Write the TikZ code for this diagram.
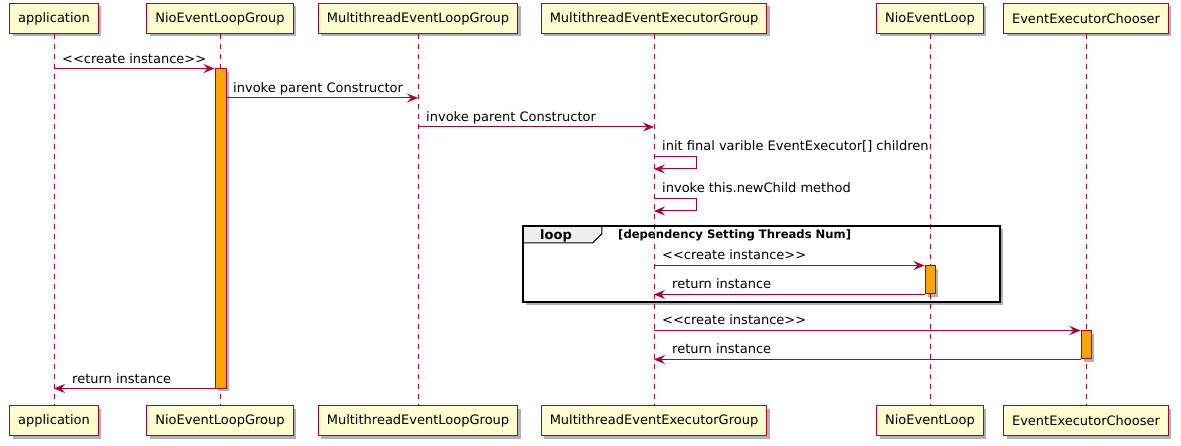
\documentclass[tikz,border=0pt]{standalone}
\usepackage{fontspec}
\newfontfamily\umlfont{DejaVu Sans}
\usetikzlibrary{arrows.meta, shadows}

\definecolor{umlred}{HTML}{A80036}
\definecolor{umlbox}{HTML}{FEFECE}
\definecolor{actfill}{HTML}{FFA500}
\definecolor{tabfill}{HTML}{EEEEEE}

\tikzset{
  part/.style={draw=umlred, fill=umlbox, line width=1pt, minimum height=30pt,
    inner xsep=8.5pt, font=\umlfont\fontsize{13}{15}\selectfont,
    drop shadow={shadow xshift=3pt, shadow yshift=-3pt, fill=black, opacity=.3}},
  lifeline/.style={draw=umlred, line width=1pt, dash pattern=on 5pt off 5pt},
  act/.style={draw=umlred, fill=actfill, line width=1pt, minimum width=10pt, inner sep=0pt,
    drop shadow={shadow xshift=3pt, shadow yshift=-3pt, fill=black, opacity=.3}},
  msg/.style={draw=umlred, line width=1pt, -{Stealth[length=11pt, width=9pt, inset=4pt]}},
  msgtext/.style={anchor=base west, inner sep=0pt, font=\umlfont\fontsize{13}{15}\selectfont},
  loopframe/.style={fill=white, inner sep=0pt,
    drop shadow={shadow xshift=3pt, shadow yshift=-3pt, fill=black, opacity=.3}},
}

\begin{document}
\begin{tikzpicture}[x=1pt, y=-1pt]
  \useasboundingbox (0,0) rectangle (1181,446);

  % loop frame, back part
  \node[loopframe, minimum width=477pt, minimum height=76pt] (loop) at (761.5,264) {};

  % participants, top row
  \node[part] (app) at (54,18.5) {application};
  \node[part] (nlg) at (220,18.5) {NioEventLoopGroup};
  \node[part] (melg) at (418,18.5) {MultithreadEventLoopGroup};
  \node[part] (meeg) at (654,18.5) {MultithreadEventExecutorGroup};
  \node[part] (nel) at (930,18.5) {NioEventLoop};
  \node[part] (eec) at (1086,18.5) {EventExecutorChooser};

  % participants, bottom row
  \node[part] (appB) at (54,420.5) {application};
  \node[part] (nlgB) at (220,420.5) {NioEventLoopGroup};
  \node[part] (melgB) at (418,420.5) {MultithreadEventLoopGroup};
  \node[part] (meegB) at (654,420.5) {MultithreadEventExecutorGroup};
  \node[part] (nelB) at (930,420.5) {NioEventLoop};
  \node[part] (eecB) at (1086,420.5) {EventExecutorChooser};

  \draw[lifeline] (app) -- (appB);
  \draw[lifeline] (nlg) -- (nlgB);
  \draw[lifeline] (melg) -- (melgB);
  \draw[lifeline] (meeg) -- (meegB);
  \draw[lifeline] (nel) -- (nelB);
  \draw[lifeline] (eec) -- (eecB);

  % loop frame, border and tab
  \draw[fill=tabfill, line width=1pt] (loop.north west) -- ++(79,0) -- ++(0,8) -- ++(-9,9) -- ++(-70,0) -- cycle;
  \draw[line width=1.5pt] (loop.north west) rectangle (loop.south east);
  \node[msgtext, font=\umlfont\bfseries\fontsize{13}{15}\selectfont] (looplbl) at (540,240) {loop};
  \node[msgtext, font=\umlfont\bfseries\fontsize{11.6}{13}\selectfont] (loopcond) at (618,239) {[dependency Setting Threads Num]};

  % activations
  \node[act, minimum width=11pt, minimum height=319pt] (actA) at (220.5,228.5) {};
  \node[act, minimum height=28pt] (actB) at (930,280) {};
  \node[act, minimum height=28pt] (actC) at (1086,345) {};

  \coordinate (r2) at (0,98);
  \coordinate (r3) at (0,127);
  \coordinate (r4) at (0,157);
  \coordinate (r4b) at (0,169);
  \coordinate (r5) at (0,199);
  \coordinate (r5b) at (0,211);

  % messages
  \draw[msg] (app |- actA.north west) -- (actA.north west);
  \node[msgtext] (l1) at (62,64) {<{}<create instance>{}>};
  \draw[msg] (actA.east |- r2) -- (melg |- r2);
  \node[msgtext] (l2) at (233,93) {invoke parent Constructor};
  \draw[msg] (melg |- r3) -- (meeg |- r3);
  \node[msgtext] (l3) at (426,122) {invoke parent Constructor};
  \draw[msg] (meeg |- r4) -- ++(42,0) |- (meeg |- r4b);
  \node[msgtext] (l4) at (662,151) {init final varible EventExecutor[] children};
  \draw[msg] (meeg |- r5) -- ++(42,0) |- (meeg |- r5b);
  \node[msgtext] (l5) at (662,193) {invoke this.newChild method};
  \draw[msg] (meeg |- actB.north west) -- (actB.north west);
  \node[msgtext] (l6) at (662,260) {<{}<create instance>{}>};
  \draw[msg] (actB.south west) -- (meeg |- actB.south west);
  \node[msgtext] (l7) at (672,289) {return instance};
  \draw[msg] (meeg |- actC.north west) -- (actC.north west);
  \node[msgtext] (l8) at (662,325) {<{}<create instance>{}>};
  \draw[msg] (actC.south west) -- (meeg |- actC.south west);
  \node[msgtext] (l9) at (672,354) {return instance};
  \draw[msg] (actA.south west) -- (app |- actA.south west);
  \node[msgtext] (l10) at (72,383) {return instance};
\end{tikzpicture}
\end{document}
